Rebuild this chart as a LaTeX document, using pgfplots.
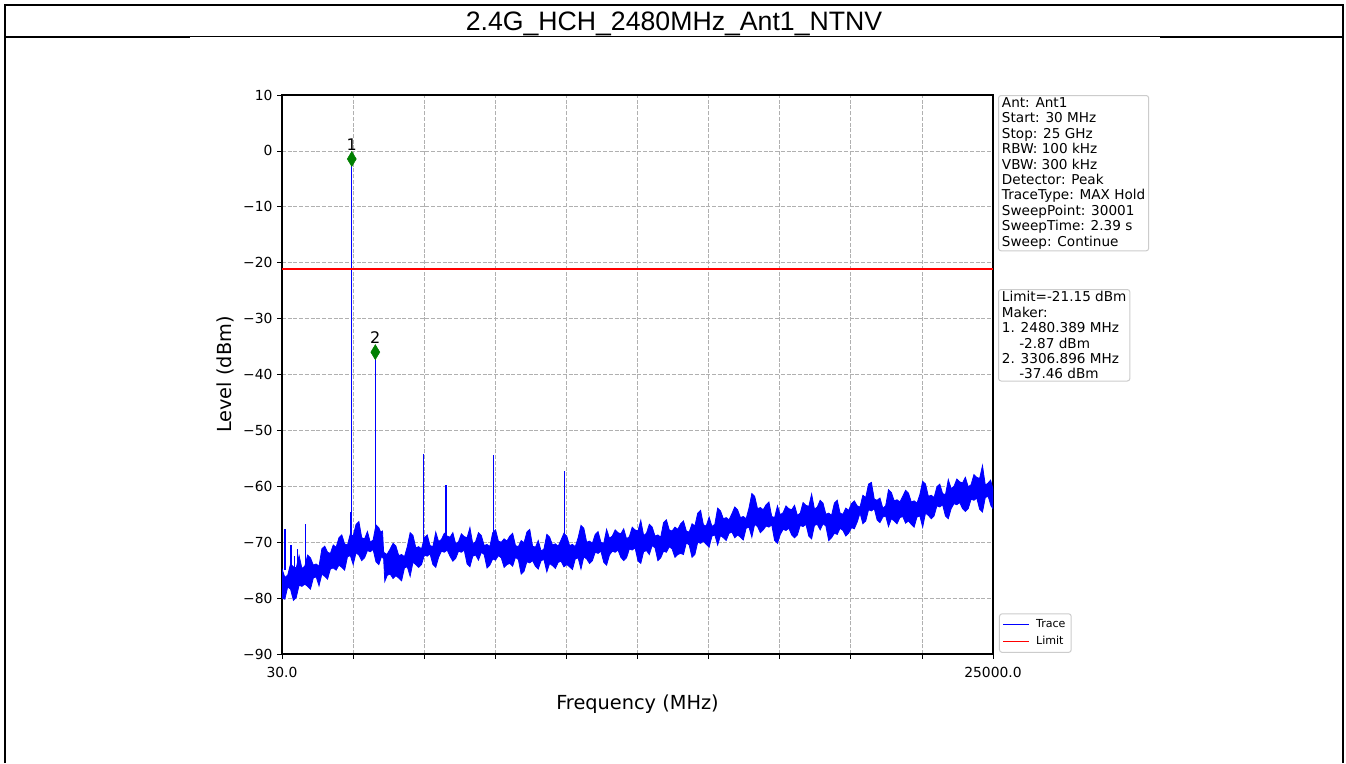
\documentclass[border=0pt]{standalone}
\usepackage{fontspec}
\setmainfont{DejaVu Sans}
\newfontfamily\titlefont{Liberation Sans}
\usepackage{pgfplots}
\pgfplotsset{compat=1.18}
\definecolor{mplgreen}{HTML}{008000}
\definecolor{gridgray}{HTML}{B0B0B0}
\definecolor{boxgray}{HTML}{CCCCCC}
\definecolor{trblue}{HTML}{0000FF}
\definecolor{lmred}{HTML}{FF0000}
\begin{document}
\begin{tikzpicture}
\path (0,0) rectangle (1009.5pt,-572.25pt);
\draw[line width=1.5pt] (3.75pt,-572.25pt) -- (3.75pt,-3.75pt) -- (1007.25pt,-3.75pt) -- (1007.25pt,-572.25pt);
\draw[line width=1.5pt] (3.75pt,-27.75pt) -- (1007.25pt,-27.75pt);
\fill[white] (142.5pt,-28.1pt) rectangle (870pt,-572.25pt);
\node[anchor=base, inner sep=0pt, font=\titlefont\fontsize{20}{24}\selectfont] at (505.5pt,-22.5pt) {2.4G\_HCH\_2480MHz\_Ant1\_NTNV};
\begin{axis}[
  at={(211.5pt,-490.5pt)}, anchor=south west,
  scale only axis, width=533.25pt, height=419.25pt,
  xmin=30, xmax=25000, ymin=-90, ymax=10,
  scaled x ticks=false,
  xtick={30,2527,5024,7521,10018,12515,15012,17509,20006,22503,25000},
  xticklabels={30.0,,,,,,,,,,25000.0},
  ytick={-90,-80,-70,-60,-50,-40,-30,-20,-10,0,10},
  yticklabels={−90,−80,−70,−60,−50,−40,−30,−20,−10,0,10},
  tick pos=left, tick align=outside, major tick length=3.6pt,
  tick style={black, line width=0.6pt},
  axis line style={line width=0.8pt},
  grid=major, major grid style={gridgray, line width=0.6pt, dash pattern=on 3pt off 1.3pt},
  ticklabel style={font=\fontsize{10.4}{12}\selectfont},
  xticklabel shift=2.5pt,
  xlabel={Frequency (MHz)}, ylabel={Level (dBm)},
  label style={font=\fontsize{14.5}{17}\selectfont},
  xlabel style={at={(axis description cs:0.5,-0.0984)}, anchor=base},
  ylabel style={at={(axis description cs:-0.0717,0.5)}, anchor=base},
  legend style={at={(1.0084,0.002)}, anchor=south west, draw=boxgray, line width=0.75pt, rounded corners=2pt, font=\fontsize{8.3}{10}\selectfont, row sep=1pt, inner sep=2.3pt},
  legend cell align=left,
  legend image code/.code={\draw[#1] (0pt,0pt) -- (19pt,0pt); \path (22pt,0pt);},
  unbounded coords=jump,
]
% noise band: upper envelope left to right, then lower envelope right to left
\addplot[draw=trblue, fill=trblue, line width=0.6pt, forget plot] coordinates {
(30,-74.8) (130,-76.3) (230,-75.9) (330,-73.9) (430,-74.4) (530,-74.6) (630,-72.4) (730,-74.7) (830,-74.3) (930,-72.3) (1030,-72.8) (1130,-74.1) (1230,-73.9) (1330,-74.3) (1430,-71.2) (1530,-70.7) (1630,-71.8) (1730,-72.0) (1830,-70.5) (1930,-70.9) (2030,-69.2) (2130,-68.7) (2230,-70.3) (2330,-70.5) (2430,-68.5) (2530,-68.9) (2630,-66.8) (2730,-66.3) (2830,-69.2) (2930,-69.4) (3030,-68.1) (3130,-70.0) (3230,-69.6) (3330,-66.9) (3430,-67.4) (3495,-68.2) (3560,-68.0) (3600,-71.8) (3715,-72.2) (3830,-71.2) (3930,-70.2) (4030,-70.7) (4130,-72.4) (4230,-72.2) (4330,-72.6) (4430,-70.8) (4530,-68.3) (4630,-68.8) (4730,-71.0) (4830,-70.8) (4930,-71.2) (5030,-69.2) (5130,-68.7) (5230,-70.6) (5330,-70.8) (5430,-68.2) (5530,-69.9) (5630,-69.5) (5730,-68.4) (5830,-68.9) (5930,-69.1) (6030,-68.3) (6130,-70.3) (6230,-69.9) (6330,-68.5) (6430,-69.0) (6530,-69.2) (6630,-67.4) (6730,-70.3) (6830,-69.9) (6930,-68.3) (7030,-68.8) (7130,-70.6) (7230,-70.4) (7330,-70.8) (7430,-68.3) (7530,-67.8) (7630,-69.8) (7730,-70.0) (7830,-69.4) (7930,-69.8) (8030,-68.9) (8130,-68.4) (8230,-70.6) (8330,-70.8) (8430,-69.7) (8530,-70.1) (8630,-68.2) (8730,-67.7) (8830,-70.7) (8930,-70.9) (9030,-69.7) (9130,-71.6) (9230,-71.2) (9330,-68.6) (9430,-69.1) (9530,-70.5) (9630,-70.3) (9730,-70.7) (9830,-69.6) (9930,-68.4) (10030,-68.9) (10130,-70.6) (10230,-70.4) (10330,-70.8) (10430,-69.2) (10530,-67.0) (10630,-67.5) (10730,-70.0) (10830,-69.8) (10930,-70.2) (11030,-68.6) (11130,-68.1) (11230,-70.0) (11330,-70.2) (11430,-67.7) (11530,-69.3) (11630,-68.9) (11730,-67.8) (11830,-68.3) (11930,-68.5) (12030,-67.6) (12130,-69.4) (12230,-69.0) (12330,-67.3) (12430,-67.8) (12530,-68.0) (12630,-66.1) (12730,-68.8) (12830,-68.4) (12930,-66.8) (13030,-67.3) (13130,-68.9) (13230,-68.7) (13330,-69.1) (13430,-66.5) (13530,-66.0) (13630,-67.8) (13730,-68.0) (13830,-67.3) (13930,-67.7) (14030,-66.7) (14130,-66.2) (14230,-68.0) (14330,-68.2) (14430,-66.7) (14530,-67.1) (14630,-64.8) (14730,-64.3) (14830,-66.9) (14930,-67.1) (15030,-65.5) (15130,-67.2) (15230,-66.8) (15330,-63.9) (15430,-64.4) (15530,-65.8) (15630,-65.6) (15730,-66.0) (15830,-64.9) (15930,-63.7) (16030,-64.2) (16130,-65.6) (16230,-65.4) (16330,-65.8) (16430,-63.9) (16530,-61.3) (16630,-61.8) (16730,-64.0) (16830,-63.8) (16930,-64.2) (17030,-63.3) (17130,-62.8) (17230,-65.4) (17330,-65.6) (17430,-63.5) (17530,-65.1) (17630,-64.7) (17730,-63.5) (17830,-64.0) (17930,-64.2) (18030,-63.4) (18130,-65.2) (18230,-64.8) (18330,-62.9) (18430,-63.4) (18530,-63.6) (18630,-61.4) (18730,-64.1) (18830,-63.7) (18930,-62.5) (19030,-63.0) (19130,-65.0) (19230,-64.8) (19330,-65.2) (19430,-63.0) (19530,-62.5) (19630,-64.8) (19730,-65.0) (19830,-63.9) (19930,-64.3) (20030,-63.1) (20130,-62.6) (20230,-63.5) (20330,-63.7) (20430,-61.6) (20530,-62.0) (20630,-59.6) (20730,-59.3) (20830,-62.3) (20930,-62.5) (21030,-62.1) (21130,-63.9) (21230,-63.5) (21330,-60.6) (21430,-61.1) (21530,-62.6) (21630,-62.4) (21730,-62.8) (21830,-61.8) (21930,-60.7) (22030,-61.2) (22130,-62.8) (22230,-62.6) (22330,-63.0) (22430,-61.5) (22530,-59.1) (22630,-59.6) (22730,-61.8) (22830,-61.6) (22930,-62.0) (23030,-60.1) (23130,-59.6) (23230,-61.3) (23330,-61.5) (23430,-58.8) (23530,-60.4) (23630,-60.0) (23730,-58.7) (23830,-59.2) (23930,-59.4) (24030,-58.4) (24130,-60.1) (24230,-59.7) (24330,-57.9) (24430,-58.4) (24530,-58.6) (24630,-56.3) (24730,-59.8) (24830,-59.4) (24915,-58.9) (25000,-60.5)
(25000,-64.0) (24930,-63.5) (24830,-61.8) (24730,-62.0) (24630,-64.6) (24530,-64.1) (24430,-62.1) (24330,-62.5) (24230,-62.3) (24130,-64.0) (24030,-64.5) (23930,-64.0) (23830,-62.9) (23730,-63.3) (23630,-63.1) (23530,-64.0) (23430,-65.8) (23330,-65.3) (23230,-63.3) (23130,-63.7) (23030,-63.5) (22930,-65.3) (22830,-65.8) (22730,-65.2) (22630,-64.8) (22530,-67.3) (22430,-65.3) (22330,-65.5) (22230,-67.3) (22130,-66.8) (22030,-66.2) (21930,-66.6) (21830,-65.4) (21730,-65.6) (21630,-66.7) (21530,-66.2) (21430,-65.8) (21330,-67.2) (21230,-65.3) (21130,-65.5) (21030,-66.5) (20930,-66.0) (20830,-64.0) (20730,-64.4) (20630,-64.2) (20530,-66.2) (20430,-66.7) (20330,-64.8) (20230,-66.4) (20130,-67.6) (20030,-67.4) (19930,-68.4) (19830,-68.9) (19730,-67.9) (19630,-67.5) (19530,-68.6) (19430,-68.4) (19330,-69.2) (19230,-69.7) (19130,-67.1) (19030,-66.7) (18930,-67.8) (18830,-66.8) (18730,-67.0) (18630,-69.4) (18530,-68.9) (18430,-66.8) (18330,-67.2) (18230,-67.0) (18130,-68.7) (18030,-69.2) (17930,-68.7) (17830,-67.5) (17730,-67.9) (17630,-67.7) (17530,-68.6) (17430,-70.2) (17330,-69.7) (17230,-66.9) (17130,-67.3) (17030,-67.1) (16930,-67.8) (16830,-68.3) (16730,-67.2) (16630,-66.8) (16530,-69.1) (16430,-67.3) (16330,-67.5) (16230,-69.6) (16130,-69.1) (16030,-68.7) (15930,-69.2) (15830,-68.2) (15730,-68.4) (15630,-69.7) (15530,-69.2) (15430,-68.8) (15330,-70.5) (15230,-68.7) (15130,-68.9) (15030,-70.9) (14930,-70.4) (14830,-69.8) (14730,-70.2) (14630,-70.0) (14530,-72.2) (14430,-72.7) (14330,-70.5) (14230,-70.1) (14130,-72.2) (14030,-72.0) (13930,-72.2) (13830,-72.7) (13730,-71.2) (13630,-70.8) (13530,-71.8) (13430,-71.6) (13330,-72.8) (13230,-73.3) (13130,-71.0) (13030,-70.6) (12930,-72.2) (12830,-71.5) (12730,-71.7) (12630,-73.8) (12530,-73.3) (12430,-71.0) (12330,-71.4) (12230,-71.2) (12130,-72.8) (12030,-73.3) (11930,-72.7) (11830,-71.4) (11730,-71.8) (11630,-71.6) (11530,-72.3) (11430,-74.1) (11330,-73.6) (11230,-71.6) (11130,-72.0) (11030,-71.8) (10930,-73.3) (10830,-73.8) (10730,-73.0) (10630,-72.6) (10530,-74.8) (10430,-72.8) (10330,-73.0) (10230,-74.9) (10130,-74.4) (10030,-74.0) (9930,-74.4) (9830,-73.4) (9730,-73.6) (9630,-74.7) (9530,-74.2) (9430,-73.8) (9330,-75.3) (9230,-73.1) (9130,-73.3) (9030,-74.8) (8930,-74.3) (8830,-73.3) (8730,-73.7) (8630,-73.5) (8530,-75.2) (8430,-75.7) (8330,-73.1) (8230,-72.7) (8130,-74.3) (8030,-73.8) (7930,-74.0) (7830,-74.5) (7730,-72.8) (7630,-72.4) (7530,-73.2) (7430,-73.0) (7330,-74.1) (7230,-74.6) (7130,-72.2) (7030,-71.8) (6930,-73.2) (6830,-72.3) (6730,-72.5) (6630,-74.4) (6530,-73.9) (6430,-71.4) (6330,-71.8) (6230,-71.6) (6130,-72.9) (6030,-73.4) (5930,-72.5) (5830,-71.4) (5730,-71.8) (5630,-71.6) (5530,-72.7) (5430,-74.5) (5330,-74.0) (5230,-72.1) (5130,-72.5) (5030,-72.3) (4930,-74.0) (4830,-74.5) (4730,-74.0) (4630,-73.6) (4530,-76.1) (4430,-74.4) (4330,-74.6) (4230,-76.9) (4130,-76.4) (4030,-76.0) (3930,-76.5) (3830,-75.7) (3730,-75.9) (3640,-77.0) (3600,-73.0) (3530,-72.5) (3430,-74.0) (3330,-73.5) (3230,-71.3) (3130,-71.7) (3030,-71.5) (2930,-72.8) (2830,-73.3) (2730,-72.3) (2630,-71.9) (2530,-74.0) (2430,-72.4) (2330,-72.6) (2230,-75.0) (2130,-74.5) (2030,-74.1) (1930,-75.0) (1830,-74.6) (1730,-74.8) (1630,-76.6) (1530,-76.1) (1430,-75.7) (1330,-77.8) (1230,-76.2) (1130,-76.4) (1030,-78.4) (930,-77.9) (830,-77.5) (730,-77.9) (630,-77.7) (530,-79.9) (430,-80.4) (330,-78.4) (230,-78.0) (130,-80.2) (30,-80.0)
} -- cycle;
\addplot[draw=trblue, line width=1.05pt, forget plot] coordinates {
(135,-75) (135,-67.6) (135,nan)
(346,-76) (346,-70.5) (346,nan)
(462,-76) (462,-72.5) (462,nan)
(581,-76) (581,-71.2) (581,nan)
(862,-75) (862,-66.8) (862,nan)
(2442,-71) (2442,-64.6) (2442,nan)
(2480,-71) (2480,-1.45) (2480,nan)
(3307,-71) (3307,-36.0) (3307,nan)
(4993,-71) (4993,-54.2) (4993,nan)
(5790,-71) (5790,-59.8) (5790,nan)
(7465,-71) (7465,-54.4) (7465,nan)
(9944,-72) (9944,-57.3)
};
\addplot[draw=lmred, line width=1.05pt, forget plot] coordinates {(30,-21.15) (25000,-21.15)};
\addplot[only marks, mark=diamond*, mark size=5.6pt, mark options={fill=mplgreen, draw=mplgreen, xscale=0.8},
  point meta=explicit symbolic, nodes near coords,
  nodes near coords style={anchor=base, yshift=6.5pt, inner sep=0pt, font=\fontsize{12}{14}\selectfont, text=black},
  forget plot] coordinates {(2480,-1.45) [1] (3307,-36.0) [2]};
\addlegendimage{draw=trblue, line width=1.2pt}
\addlegendentry{Trace}
\addlegendimage{draw=lmred, line width=1.2pt}
\addlegendentry{Limit}
\end{axis}
\node[anchor=north west, draw=boxgray, line width=0.75pt, rounded corners=2pt, fill=white, align=left,
  inner xsep=2.6pt, inner ysep=1.5pt, font=\fontsize{10.2}{11.55}\selectfont] at (748.5pt,-71.25pt)
  {Ant: Ant1\\Start: 30 MHz\\Stop: 25 GHz\\RBW: 100 kHz\\VBW: 300 kHz\\Detector: Peak\\TraceType: MAX Hold\\SweepPoint: 30001\\SweepTime: 2.39 s\\Sweep: Continue};
\node[anchor=north west, draw=boxgray, line width=0.75pt, rounded corners=2pt, fill=white, align=left,
  inner xsep=2.6pt, inner ysep=1.5pt, font=\fontsize{10.2}{11.55}\selectfont] at (748.5pt,-216.75pt)
  {Limit=-21.15 dBm\\Maker:\\1. 2480.389 MHz\\\hspace*{13pt}-2.87 dBm\\2. 3306.896 MHz\\\hspace*{13pt}-37.46 dBm};
\end{tikzpicture}
\end{document}
